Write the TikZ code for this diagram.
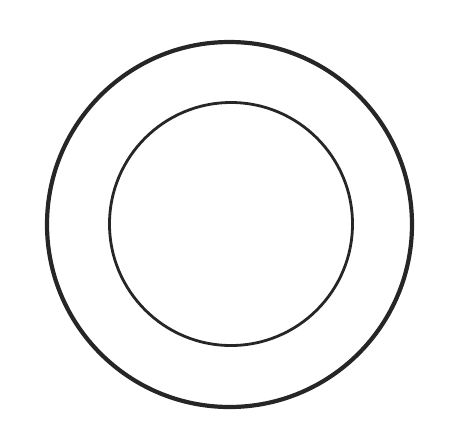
\documentclass[tikz,border=0pt]{standalone}
\begin{document}
\begin{tikzpicture}[x=1pt,y=-1pt]
      \useasboundingbox (0,0) rectangle (450,432);
      \coordinate (outer) at (229.5,224.5);
      \coordinate (inner) at (231,224);
      \draw[line width=4.2pt,black!85] (outer) circle (182.5);
      \draw[line width=2.8pt,black!85] (inner) circle (121.5);
    \end{tikzpicture}
\end{document}
